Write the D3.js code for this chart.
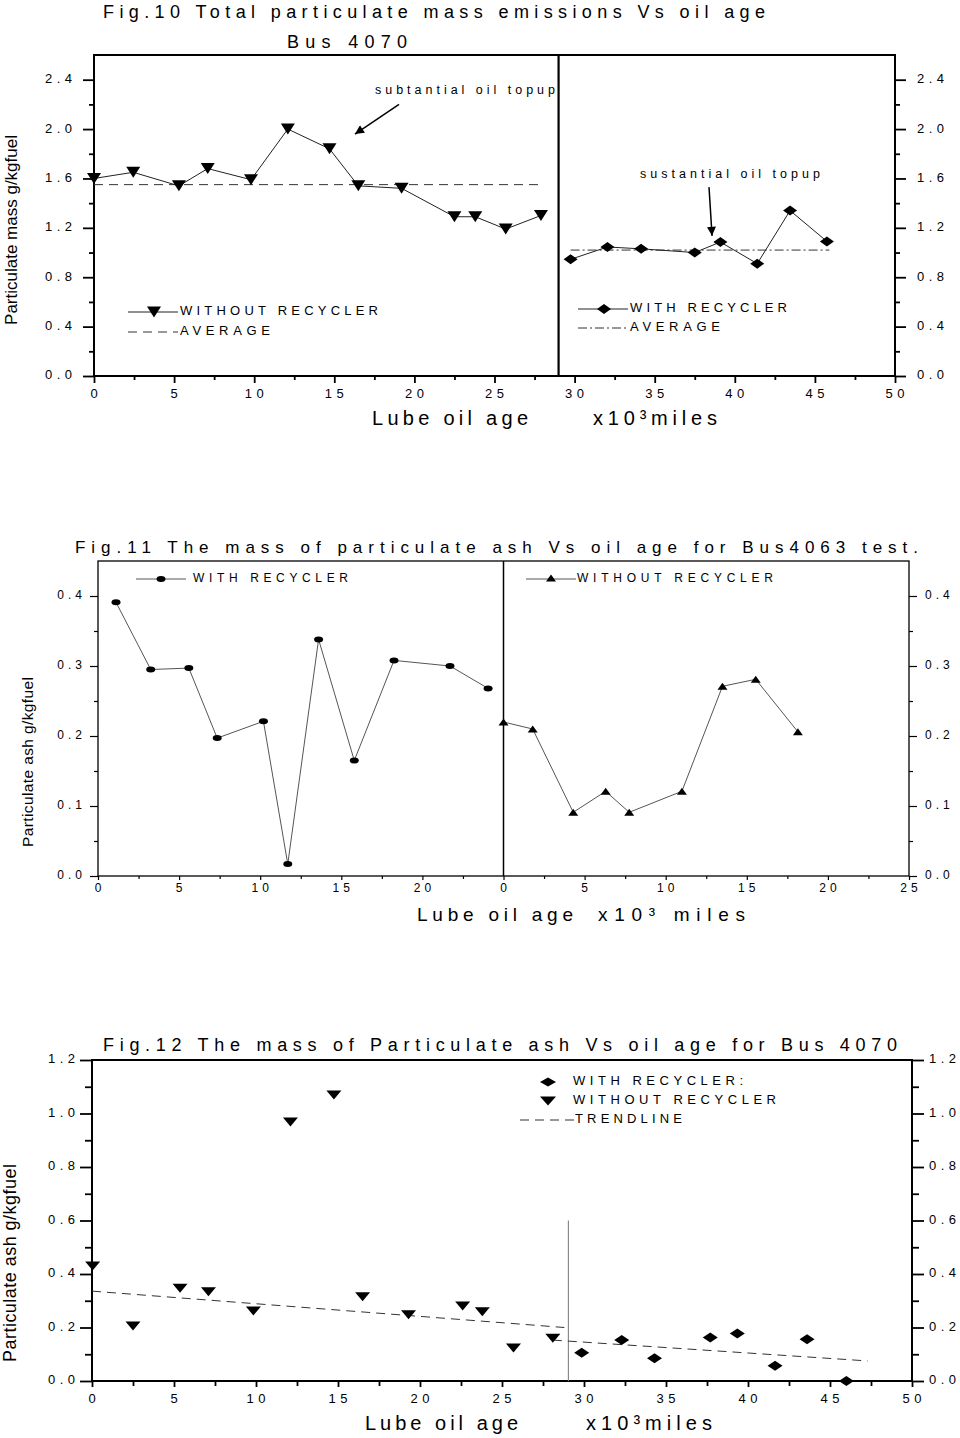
<!DOCTYPE html>
<html><head><meta charset="utf-8">
<script src="https://cdn.jsdelivr.net/npm/d3@7"></script>
<style>body{margin:0;background:#fff} text{font-family:"Liberation Sans",Arial,sans-serif;fill:#000}</style>
</head><body><svg id="c" width="960" height="1438"></svg>
<script>
// ---------- Fig.10 data ----------
const f10WithoutX = [0, 2.45, 5.3, 7.1, 9.8, 12.1, 14.7, 16.5, 19.2, 22.5, 23.8, 25.7, 27.9];
const f10WithoutY = [1.60, 1.65, 1.54, 1.68, 1.59, 2.00, 1.84, 1.54, 1.52, 1.29, 1.29, 1.19, 1.30];
const f10WithoutAvg = 1.55, f10WithoutAvgRange = [0, 27.85];
const f10WithX = [29.75, 32.05, 34.15, 37.5, 39.1, 41.4, 43.45, 45.75];
const f10WithY = [0.945, 1.045, 1.03, 1.00, 1.085, 0.91, 1.34, 1.09];
const f10WithAvg = 1.02, f10WithAvgRange = [29.75, 45.9];
const f10Divider = 29.0;
const f10YTicks = [0, 0.4, 0.8, 1.2, 1.6, 2.0, 2.4];
const f10XTicks = [0, 5, 10, 15, 20, 25, 30, 35, 40, 45, 50];

// ---------- Fig.11 data ----------
const f11WithX = [1.11, 3.25, 5.6, 7.35, 10.2, 11.7, 13.6, 15.8, 18.25, 21.7, 24.05];
const f11WithY = [0.391, 0.295, 0.297, 0.197, 0.221, 0.017, 0.338, 0.165, 0.308, 0.300, 0.268];
const f11WithoutX = [0, 1.8, 4.3, 6.3, 7.75, 11.0, 13.5, 15.55, 18.15]; // second segment (restarts at 0)
const f11WithoutY = [0.220, 0.210, 0.091, 0.121, 0.091, 0.121, 0.271, 0.281, 0.206];
const f11Offset = 25;
const f11YTicks = [0, 0.1, 0.2, 0.3, 0.4];
const f11XTickLabels = ["0","5","10","15","20","0","5","10","15","20","25"];

// ---------- Fig.12 data ----------
const f12WithoutX = [0.04, 2.5, 5.37, 7.1, 9.84, 12.1, 14.75, 16.5, 19.3, 22.6, 23.8, 25.7, 28.1];
const f12WithoutY = [0.43, 0.206, 0.347, 0.334, 0.262, 0.968, 1.069, 0.315, 0.248, 0.28, 0.259, 0.123, 0.16];
const f12WithX = [29.86, 32.3, 34.3, 37.7, 39.35, 41.65, 43.6, 46.0];
const f12WithY = [0.106, 0.153, 0.085, 0.163, 0.178, 0.057, 0.156, 0.0];
const f12Trend1 = [[0, 0.336], [28.8, 0.2]];
const f12Trend2 = [[28.1, 0.153], [47.3, 0.075]];
const f12Divider = {x: 29.05, y: 0.6};
const f12YTicks = [0, 0.2, 0.4, 0.6, 0.8, 1.0, 1.2];
const f12XTicks = [0, 5, 10, 15, 20, 25, 30, 35, 40, 45, 50];

const svg = d3.select("#c");
const fmt1 = d3.format(".1f");

function txt(g, x, y, s, o = {}) {
  const t = g.append("text").attr("x", x).attr("y", y).text(s)
    .attr("font-size", o.size || 13)
    .attr("text-anchor", o.anchor || "start")
    .attr("dominant-baseline", o.base || "auto");
  if (o.len) t.attr("textLength", o.len).attr("lengthAdjust", "spacing");
  if (o.ls) t.attr("letter-spacing", o.ls);
  if (o.rot) t.attr("transform", `rotate(${o.rot},${x},${y})`);
  return t;
}
function triPath(down, w, h) {
  const s = down ? 1 : -1;
  return `M${-w},${-s*h/2}L${w},${-s*h/2}L0,${s*h/2}Z`;
}
function diaPath(w, h) { return `M${-w},0L0,${-h}L${w},0L0,${h}Z`; }

function axes(g, x, y, o) {
  const yMin = o.yMinor, yMaj = o.yMajor;
  const lAx = d3.axisLeft(y).tickValues(yMin).tickSize(o.minorLen).tickFormat("");
  const lAxM = d3.axisLeft(y).tickValues(yMaj).tickSize(o.majorLen).tickFormat("");
  const rAx = d3.axisRight(y).tickValues(yMin).tickSize(o.minorLen).tickFormat("");
  const rAxM = d3.axisRight(y).tickValues(yMaj).tickSize(o.majorLen).tickFormat("");
  const bAx = d3.axisBottom(x).tickValues(o.xMinor).tickSize(o.xMinorLen).tickFormat("");
  const bAxM = d3.axisBottom(x).tickValues(o.xMajor).tickSize(o.xMajorLen).tickFormat("");
  const x0 = x.range()[0], x1 = x.range()[1], y0 = y.range()[0], y1 = y.range()[1];
  [[lAx, x0, 0], [lAxM, x0, 0], [rAx, x1, 0], [rAxM, x1, 0], [bAx, 0, y0], [bAxM, 0, y0]].forEach(([a, tx, ty]) => {
    const ag = g.append("g").attr("transform", `translate(${tx},${ty})`).call(a);
    ag.select(".domain").remove();
    ag.selectAll("line").attr("stroke", "#000").attr("stroke-width", o.tickW);
  });
  g.append("rect").attr("x", x0).attr("y", y1).attr("width", x1 - x0).attr("height", y0 - y1)
    .attr("fill", "none").attr("stroke", "#000").attr("stroke-width", o.frameW);
  yMaj.forEach(v => {
    txt(g, x0 - o.labelGap + o.lsp, y(v), fmt1(v), {size: o.ls, anchor: "end", base: "middle", ls: o.lsp});
    txt(g, x1 + o.labelGap, y(v), fmt1(v), {size: o.ls, anchor: "start", base: "middle", ls: o.lsp});
  });
  o.xMajor.forEach((v, i) => {
    txt(g, x(v) + o.xlsp / 2, y0 + o.xLabelDy, o.xLabels ? o.xLabels[i] : String(v), {size: o.ls, anchor: "middle", base: "middle", ls: o.xlsp});
  });
}

// ======================= Fig.10 =======================
{
  const g = svg.append("g");
  const x = d3.scaleLinear().domain([0, 50]).range([94, 895]);
  const y = d3.scaleLinear().domain([0, 2.6]).range([376, 55]);
  axes(g, x, y, {
    yMajor: f10YTicks, yMinor: d3.range(0.2, 2.6, 0.4), majorLen: 11, minorLen: 5,
    xMajor: f10XTicks, xMinor: d3.range(2.5, 50, 5), xMajorLen: 7, xMinorLen: 4,
    tickW: 1.8, frameW: 2, labelGap: 22, ls: 13, lsp: 4.5, xlsp: 4.5, xLabelDy: 19
  });
  g.append("line").attr("x1", x(f10Divider)).attr("x2", x(f10Divider)).attr("y1", y(2.6)).attr("y2", y(0))
    .attr("stroke", "#000").attr("stroke-width", 2.2);

  g.append("line").attr("x1", x(f10WithoutAvgRange[0])).attr("x2", x(f10WithoutAvgRange[1]))
    .attr("y1", y(f10WithoutAvg)).attr("y2", y(f10WithoutAvg))
    .attr("stroke", "#333").attr("stroke-width", 1).attr("stroke-dasharray", "9,6");
  g.append("line").attr("x1", x(f10WithAvgRange[0])).attr("x2", x(f10WithAvgRange[1]))
    .attr("y1", y(f10WithAvg)).attr("y2", y(f10WithAvg))
    .attr("stroke", "#333").attr("stroke-width", 1).attr("stroke-dasharray", "9,3,2,3");

  const line = d3.line().x(d => x(d[0])).y(d => y(d[1]));
  const wo = f10WithoutX.map((v, i) => [v, f10WithoutY[i]]);
  const wi = f10WithX.map((v, i) => [v, f10WithY[i]]);
  g.append("path").attr("d", line(wo)).attr("fill", "none").attr("stroke", "#222").attr("stroke-width", 1);
  g.append("path").attr("d", line(wi)).attr("fill", "none").attr("stroke", "#222").attr("stroke-width", 1);
  g.selectAll(".t10").data(wo).join("path").attr("d", triPath(true, 7, 11))
    .attr("transform", d => `translate(${x(d[0])},${y(d[1])})`).attr("fill", "#000");
  g.selectAll(".d10").data(wi).join("path").attr("d", diaPath(7, 5))
    .attr("transform", d => `translate(${x(d[0])},${y(d[1])})`).attr("fill", "#000");

  const defs = svg.append("defs");
  defs.append("marker").attr("id", "ah").attr("viewBox", "0 0 10 10").attr("refX", 10).attr("refY", 5)
    .attr("markerWidth", 12).attr("markerHeight", 9).attr("markerUnits", "userSpaceOnUse").attr("orient", "auto")
    .append("path").attr("d", "M0,0L10,5L0,10Z").attr("fill", "#000");
  txt(g, x(17.54), y(2.285), "subtantial oil topup", {size: 12.5, len: 180});
  g.append("line").attr("x1", x(19.04)).attr("y1", y(2.2)).attr("x2", x(16.29)).attr("y2", y(1.96))
    .attr("stroke", "#000").attr("stroke-width", 1.5).attr("marker-end", "url(#ah)");
  txt(g, x(34.08), y(1.6), "sustantial oil topup", {size: 12.5, len: 180});
  g.append("line").attr("x1", x(38.39)).attr("y1", y(1.53)).attr("x2", x(38.58)).attr("y2", y(1.135))
    .attr("stroke", "#000").attr("stroke-width", 1.5).attr("marker-end", "url(#ah)");

  g.append("line").attr("x1", 128).attr("x2", 178).attr("y1", 312).attr("y2", 312).attr("stroke", "#222");
  g.append("path").attr("d", triPath(true, 7, 11)).attr("transform", "translate(154,312)");
  txt(g, 180, 312, "WITHOUT RECYCLER", {size: 13, len: 198, base: "middle"});
  g.append("line").attr("x1", 128).attr("x2", 178).attr("y1", 332).attr("y2", 332).attr("stroke", "#333").attr("stroke-dasharray", "9,6");
  txt(g, 180, 332, "AVERAGE", {size: 13, len: 90, base: "middle"});
  g.append("line").attr("x1", 578).attr("x2", 628).attr("y1", 309).attr("y2", 309).attr("stroke", "#222");
  g.append("path").attr("d", diaPath(7, 5)).attr("transform", "translate(604,309)");
  txt(g, 630, 309, "WITH RECYCLER", {size: 13, len: 157, base: "middle"});
  g.append("line").attr("x1", 578).attr("x2", 628).attr("y1", 328).attr("y2", 328).attr("stroke", "#333").attr("stroke-dasharray", "9,3,2,3");
  txt(g, 630, 328, "AVERAGE", {size: 13, len: 90, base: "middle"});

  txt(g, 103, 18, "Fig.10 Total particulate mass emissions Vs oil age", {size: 18, len: 662});
  txt(g, 287, 48, "Bus 4070", {size: 18, len: 120});
  txt(g, 372, 425, "Lube oil age", {size: 20, len: 156});
  txt(g, 593, 425, "x10³miles", {size: 20, len: 124});
  txt(g, 17, 230, "Particulate mass  g/kgfuel", {size: 17, anchor: "middle", rot: -90});
}

// ======================= Fig.11 =======================
{
  const g = svg.append("g");
  const x = d3.scaleLinear().domain([0, 50]).range([98, 909]);
  const y = d3.scaleLinear().domain([0, 0.45]).range([876, 561]);
  axes(g, x, y, {
    yMajor: f11YTicks, yMinor: d3.range(0.05, 0.45, 0.1), majorLen: 8, minorLen: 4,
    xMajor: d3.range(0, 51, 5), xMinor: d3.range(2.5, 50, 5), xMajorLen: 4, xMinorLen: 3,
    xLabels: f11XTickLabels,
    tickW: 1.2, frameW: 1.3, labelGap: 16, ls: 12, lsp: 4, xlsp: 4, xLabelDy: 13
  });
  g.append("line").attr("x1", x(f11Offset)).attr("x2", x(f11Offset)).attr("y1", y(0.45)).attr("y2", y(0))
    .attr("stroke", "#000").attr("stroke-width", 1.5);
  const line = d3.line().x(d => x(d[0])).y(d => y(d[1]));
  const wi = f11WithX.map((v, i) => [v, f11WithY[i]]);
  const wo = f11WithoutX.map((v, i) => [v + f11Offset, f11WithoutY[i]]);
  g.append("path").attr("d", line(wi)).attr("fill", "none").attr("stroke", "#555").attr("stroke-width", 1);
  g.append("path").attr("d", line(wo)).attr("fill", "none").attr("stroke", "#555").attr("stroke-width", 1);
  g.selectAll(".c11").data(wi).join("ellipse").attr("cx", d => x(d[0])).attr("cy", d => y(d[1]))
    .attr("rx", 4.5).attr("ry", 3).attr("fill", "#000");
  g.selectAll(".t11").data(wo).join("path").attr("d", triPath(false, 5, 7))
    .attr("transform", d => `translate(${x(d[0])},${y(d[1])})`).attr("fill", "#000");

  g.append("line").attr("x1", 136).attr("x2", 186).attr("y1", 579).attr("y2", 579).attr("stroke", "#555");
  g.append("ellipse").attr("cx", 161).attr("cy", 579).attr("rx", 4.5).attr("ry", 3);
  txt(g, 193, 579, "WITH RECYCLER", {size: 12, len: 155, base: "middle"});
  g.append("line").attr("x1", 526).attr("x2", 576).attr("y1", 579).attr("y2", 579).attr("stroke", "#555");
  g.append("path").attr("d", triPath(false, 5, 7)).attr("transform", "translate(551,578)");
  txt(g, 577, 579, "WITHOUT RECYCLER", {size: 12, len: 196, base: "middle"});

  txt(g, 75, 553, "Fig.11  The mass of  particulate ash Vs oil age for Bus4063 test.", {size: 17, len: 843});
  txt(g, 417, 921, "Lube oil age", {size: 19, len: 156});
  txt(g, 598, 921, "x10³ miles", {size: 19, len: 147});
  txt(g, 33, 762, "Particulate ash  g/kgfuel", {size: 15.5, anchor: "middle", len: 170, rot: -90});
}

// ======================= Fig.12 =======================
{
  const g = svg.append("g");
  const x = d3.scaleLinear().domain([0, 50]).range([92, 912]);
  const y = d3.scaleLinear().domain([0, 1.2]).range([1381, 1060]);
  axes(g, x, y, {
    yMajor: f12YTicks, yMinor: d3.range(0.1, 1.2, 0.2), majorLen: 12, minorLen: 7,
    xMajor: f12XTicks, xMinor: d3.range(2.5, 50, 5), xMajorLen: 6, xMinorLen: 5,
    tickW: 1.8, frameW: 2, labelGap: 17, ls: 13, lsp: 4.5, xlsp: 4.5, xLabelDy: 19
  });
  g.append("line").attr("x1", x(f12Divider.x)).attr("x2", x(f12Divider.x)).attr("y1", y(f12Divider.y)).attr("y2", y(0))
    .attr("stroke", "#888").attr("stroke-width", 1.2);
  const line = d3.line().x(d => x(d[0])).y(d => y(d[1]));
  [f12Trend1, f12Trend2].forEach(tr => g.append("path").attr("d", line(tr)).attr("fill", "none")
    .attr("stroke", "#333").attr("stroke-width", 1).attr("stroke-dasharray", "9,6"));
  const wo = f12WithoutX.map((v, i) => [v, f12WithoutY[i]]);
  const wi = f12WithX.map((v, i) => [v, f12WithY[i]]);
  g.selectAll(".t12").data(wo).join("path").attr("d", triPath(true, 7.5, 9))
    .attr("transform", d => `translate(${x(d[0])},${y(d[1])})`).attr("fill", "#000");
  g.selectAll(".d12").data(wi).join("path").attr("d", diaPath(7.5, 5))
    .attr("transform", d => `translate(${x(d[0])},${y(d[1])})`).attr("fill", "#000");

  g.append("path").attr("d", diaPath(8, 4.5)).attr("transform", "translate(548,1082)");
  txt(g, 573, 1082, "WITH RECYCLER:", {size: 13, len: 170, base: "middle"});
  g.append("path").attr("d", triPath(true, 8, 9)).attr("transform", "translate(548,1101)");
  txt(g, 573, 1101, "WITHOUT RECYCLER", {size: 13, len: 203, base: "middle"});
  g.append("line").attr("x1", 520).attr("x2", 574).attr("y1", 1120).attr("y2", 1120).attr("stroke", "#333").attr("stroke-dasharray", "9,6");
  txt(g, 575, 1120, "TRENDLINE", {size: 13, len: 107, base: "middle"});

  txt(g, 103, 1051, "Fig.12 The mass of Particulate ash Vs oil age for Bus 4070", {size: 18, len: 794});
  txt(g, 365, 1430, "Lube oil age", {size: 20, len: 153});
  txt(g, 586, 1430, "x10³miles", {size: 20, len: 126});
  txt(g, 16, 1263, "Particulate ash  g/kgfuel", {size: 18, anchor: "middle", len: 198, rot: -90});
}
</script></body></html>
